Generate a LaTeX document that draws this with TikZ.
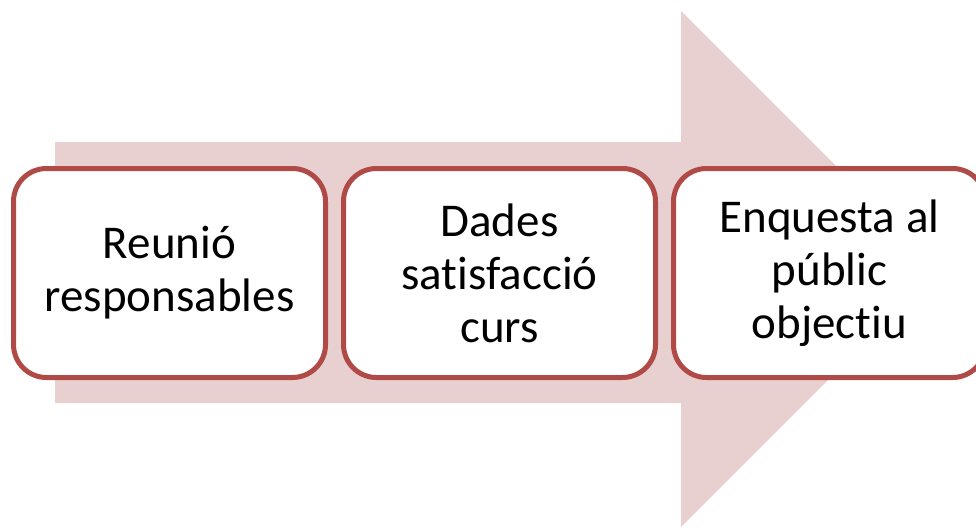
\documentclass[tikz,border=0pt]{standalone}
\usepackage{fontspec}
\setmainfont{Carlito}[Ligatures=NoCommon]
\usetikzlibrary{positioning}

\definecolor{arrowpink}{HTML}{E8D0D1}
\definecolor{boxred}{HTML}{B04A47}

\begin{document}
\begin{tikzpicture}[
		x=1pt, y=-1pt,
		% Style for the white rounded step boxes
		stepbox/.style={
			rectangle, rounded corners=33pt,
			draw=boxred, line width=5pt, fill=white,
			minimum width=312pt, minimum height=209pt,
			align=center, inner sep=0pt,
			font=\fontsize{47}{53}\selectfont
		},
		% Style for the big background arrow
		bigarrow/.style={fill=arrowpink, draw=none}
		]
		
		\useasboundingbox (0,0) rectangle (976,528);
		\clip (0,0) rectangle (976,528);
		
		% ==============================================================================
		% 1. BACKGROUND ARROW
		% ==============================================================================
		\fill[bigarrow] (55,142) -- (681,142) -- (681,11) -- (939,269)
			-- (681,527) -- (681,403) -- (55,403) -- cycle;
		
		% ==============================================================================
		% 2. STEP BOXES
		% ==============================================================================
		\node[stepbox] (reunio) at (169.5,273) {Reunió\\responsables};
		\node[stepbox, right=13pt of reunio] (dades) {Dades\\satisfacció\\curs};
		\node[stepbox, right=13pt of dades] (enquesta) {Enquesta al\\públic\\objectiu};
	\end{tikzpicture}
\end{document}
